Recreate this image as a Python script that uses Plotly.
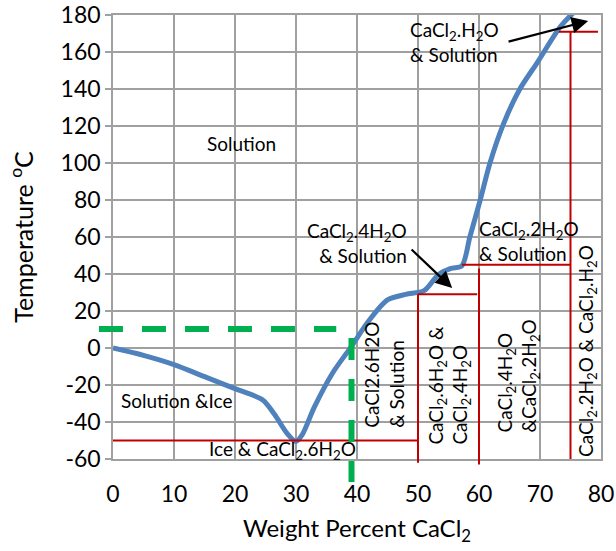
import plotly.graph_objects as go

# Liquidus curve of CaCl2-H2O (weight % CaCl2, temperature °C)
curve_x = [0, 5, 10, 15, 20, 24.5, 26.5, 28.5, 30, 31, 33, 36, 39, 42, 45, 48, 51, 53.3, 55.4, 57.2, 58.5, 60.2, 61.8, 64, 66.7, 69.5, 73.3, 75.4]
curve_y = [0, -4, -9, -15.5, -22, -28, -36, -46, -50.5, -47, -32, -13.5, 0.5, 15, 26, 29, 31, 39.5, 43, 44.5, 60, 80, 100, 121, 140, 154, 173.5, 181]

# Phase boundary lines (red): (x0, y0, x1, y1)
red_segments = [
    (0, -50, 50, -50),
    (50, -62, 50, 29),
    (50, 29, 59.7, 29),
    (60, -63, 60, 43),
    (57.2, 45, 75, 45),
    (75, -60, 75, 171),
    (73.1, 171, 79.5, 171),
]

# Green dashed guide (eutectic composition reading)
green_h = (-2.3, 10.3, 36.6, 10.3)
green_v = (39.1, 5.4, 39.1, -72.4)

x_ticks = [0, 10, 20, 30, 40, 50, 60, 70, 80]
y_ticks = [-60, -40, -20, 0, 20, 40, 60, 80, 100, 120, 140, 160, 180]
y_tick_text = ["-60", "-40", "-20", "0", "20", "40", "60", "80", "100", "120", "140", "160", "180"]
x_range = [0, 80]
y_range = [-60, 180]

FONT = "Lato"
fig = go.Figure()

fig.add_trace(go.Scatter(
    x=curve_x, y=curve_y, mode="lines",
    line=dict(color="#4F81BD", width=5, shape="spline", smoothing=0.8),
    hoverinfo="skip", showlegend=False,
))

shapes = []
for (x0, y0, x1, y1) in red_segments:
    shapes.append(dict(type="line", xref="x", yref="y", x0=x0, y0=y0, x1=x1, y1=y1,
                       line=dict(color="#C00000", width=2), layer="above"))


def px_x(v):
    return (v - x_range[0]) / (x_range[1] - x_range[0])


def px_y(v):
    return (v - y_range[0]) / (y_range[1] - y_range[0])


# red verticals that extend slightly below axis -> use paper y
for s in shapes:
    if s["y0"] < y_range[0]:
        s["yref"] = "paper"
        s["y0"] = px_y(s["y0"])
        s["y1"] = px_y(s["y1"])

shapes.append(dict(type="line", xref="paper", yref="y",
                   x0=px_x(green_h[0]), x1=px_x(green_h[2]), y0=green_h[1], y1=green_h[3],
                   line=dict(color="#00B050", width=6, dash="24px,19px"), layer="above"))
shapes.append(dict(type="line", xref="x", yref="paper",
                   x0=green_v[0], x1=green_v[2], y0=px_y(green_v[1]), y1=px_y(green_v[3]),
                   line=dict(color="#00B050", width=6, dash="22px,19px"), layer="above"))

ann = []
TF = dict(family=FONT, size=19, color="black")


def txt(x, y, s, angle=0, align="center", xanchor="center", yanchor="middle"):
    ann.append(dict(x=x, y=y, xref="x", yref="y", text=s, showarrow=False, font=TF,
                    textangle=angle, align=align, xanchor=xanchor, yanchor=yanchor))


txt(21, 110.3, "Solution")
txt(48.4, 165.4, "CaCl<sub>2</sub>.H<sub>2</sub>O<br>& Solution", align="left", xanchor="left")
txt(40, 56.8, "CaCl<sub>2</sub>.4H<sub>2</sub>O<br>& Solution", align="right")
txt(59.7, 57.8, "CaCl<sub>2</sub>.2H<sub>2</sub>O<br>& Solution", align="left", xanchor="left")
txt(10.5, -28.6, "Solution &Ice")
txt(27.8, -55, "Ice & CaCl<sub>2</sub>.6H<sub>2</sub>O")
txt(44.4, -44.3, "CaCl2.6H2O<br>& Solution", angle=-90, align="left", yanchor="bottom")
txt(55.1, -53.5, "CaCl<sub>2</sub>.6H<sub>2</sub>O &<br>CaCl<sub>2</sub>.4H<sub>2</sub>O", angle=-90, align="left", yanchor="bottom")
txt(66.4, -47, "CaCl<sub>2</sub>.4H<sub>2</sub>O<br>&CaCl<sub>2</sub>.2H<sub>2</sub>O", angle=-90, align="left", yanchor="bottom")
txt(77.7, -1.6, "CaCl<sub>2</sub>.2H<sub>2</sub>O & CaCl<sub>2</sub>.H<sub>2</sub>O", angle=-90)

# arrows
for (tx, ty, sx, sy) in [(77.9, 176.8, 64.6, 165.4), (55.6, 32.4, 48.7, 54)]:
    ann.append(dict(x=tx, y=ty, ax=sx, ay=sy, xref="x", yref="y", axref="x", ayref="y",
                    text="", showarrow=True, arrowhead=2, arrowsize=1.5, arrowwidth=2.2,
                    arrowcolor="black"))

GRID = "#a0a0a0"
fig.update_layout(
    width=616, height=551,
    margin=dict(l=113, r=15, t=15, b=92),
    paper_bgcolor="white", plot_bgcolor="white",
    font=dict(family=FONT, color="black"),
    shapes=shapes, annotations=ann,
    xaxis=dict(range=x_range, tickvals=x_ticks, showgrid=True, gridcolor=GRID, gridwidth=1.5,
               zeroline=False, showline=True, linecolor=GRID, linewidth=1.5, mirror=True,
               automargin=False,
               ticks="", ticklabelstandoff=14, tickfont=dict(family=FONT, size=23),
               title=dict(text="Weight Percent CaCl<sub>2</sub>", font=dict(family=FONT, size=24), standoff=14)),
    yaxis=dict(range=y_range, tickvals=y_ticks, ticktext=y_tick_text, showgrid=True, gridcolor=GRID, gridwidth=1.5,
               zeroline=False, showline=True, linecolor=GRID, linewidth=1.5, mirror=True,
               automargin=False,
               ticks="outside", ticklen=6, tickcolor=GRID, tickwidth=1.5,
               tickfont=dict(family=FONT, size=23),
               title=dict(text="Temperature <sup>o</sup>C", font=dict(family=FONT, size=25), standoff=20)),
)

fig.write_html("out.html", config={"displayModeBar": False},
               post_script="document.body.style.margin='0';document.body.style.overflow='hidden';")
